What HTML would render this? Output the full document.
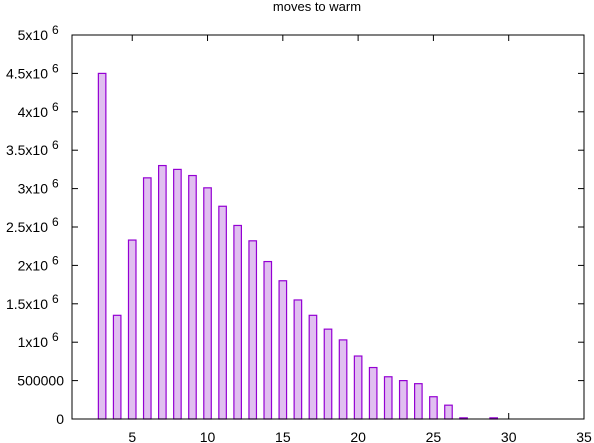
<!DOCTYPE html>
<html><head><meta charset="utf-8"><style>
body{margin:0;background:#fff}
svg{display:block;font-family:"Liberation Sans",sans-serif}
</style></head><body>
<svg id="chart" width="594" height="443" viewBox="0 0 594 443" xmlns="http://www.w3.org/2000/svg">
<text x="317" y="11" font-size="13" text-anchor="middle">moves to warm</text>
<g id="grid"></g>
<g id="bars"></g>
<rect x="72" y="35" width="512" height="384" fill="none" stroke="#000" stroke-width="1"/>
</svg>
<script>
const categories=[3,4,5,6,7,8,9,10,11,12,13,14,15,16,17,18,19,20,21,22,23,24,25,26,27,29];
const values=[4.5e6,1.35e6,2.33e6,3.14e6,3.3e6,3.25e6,3.17e6,3.01e6,2.77e6,2.52e6,2.32e6,2.05e6,1.8e6,1.55e6,1.35e6,1.17e6,1.03e6,0.82e6,0.67e6,0.55e6,0.5e6,0.46e6,0.29e6,0.18e6,0.015e6,0.015e6];
const xTicks=[5,10,15,20,25,30,35];
const yTicks=[0,500000,1e6,1.5e6,2e6,2.5e6,3e6,3.5e6,4e6,4.5e6,5e6];
const yLabels=["0","500000","1x10","1.5x10","2x10","2.5x10","3x10","3.5x10","4x10","4.5x10","5x10"];
const X0=72,X1=584,Y0=419,Y1=35,xmin=1,xmax=35,ymax=5e6;
const sx=v=>X0+(v-xmin)/(xmax-xmin)*(X1-X0);
const sy=v=>Y0-v/ymax*(Y0-Y1);
const NS="http://www.w3.org/2000/svg";
const g=document.getElementById('grid'),b=document.getElementById('bars');
function mk(t,a,p){const e=document.createElementNS(NS,t);for(const k in a)e.setAttribute(k,a[k]);p.appendChild(e);return e;}
xTicks.forEach(t=>{const x=sx(t);
 const l1=mk('line',{x1:x,x2:x,y1:Y0,y2:Y0-6,stroke:'#000'},g);
 
 
 const l2=mk('line',{x1:x,x2:x,y1:Y1,y2:Y1+6,stroke:'#000'},g);
 
 
 const tx=mk('text',{x:x,y:442,'font-size':14,'text-anchor':'middle'},g);tx.textContent=t;
 
 
});
yTicks.forEach((t,i)=>{const y=sy(t);
 const l1=mk('line',{x1:X0,x2:X0+6,y1:y,y2:y,stroke:'#000'},g);
 
 
 const l2=mk('line',{x1:X1,x2:X1-6,y1:y,y2:y,stroke:'#000'},g);
 
 
 const lab=yLabels[i];const sup=lab.indexOf('x10')>=0;
 const tx=mk('text',{x:sup?48:64,y:y+5,'font-size':14,'text-anchor':'end'},g);tx.textContent=lab;
 
 
 if(sup){const s=mk('text',{x:52,y:y-1,'font-size':12},g);s.textContent='6';
 
 }
});
categories.forEach((c,i)=>{const x=sx(c),w=7.5,y=sy(values[i]);
 const r=mk('rect',{x:x-w/2,y:y,width:w,height:Math.max(Y0-y,0.5),fill:'#e0bff0',stroke:'#9400d3','stroke-width':1.2},b);
 
 
});
</script>
</body></html>
